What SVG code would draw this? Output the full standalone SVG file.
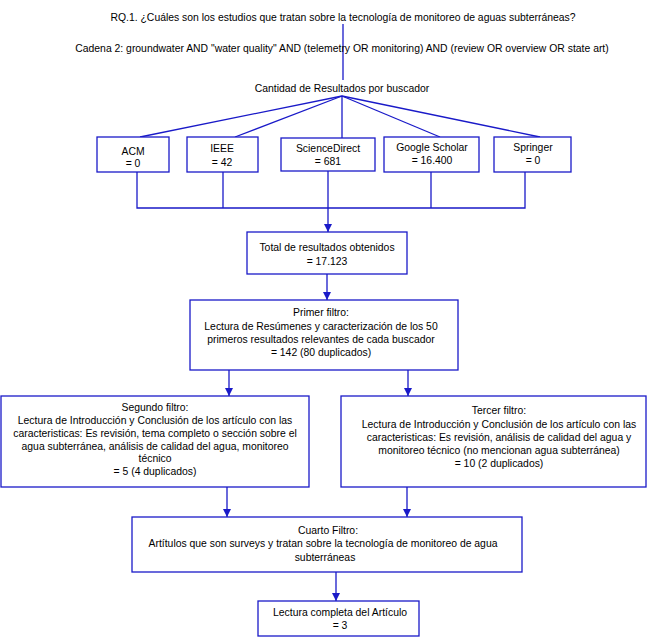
<svg xmlns="http://www.w3.org/2000/svg" width="650" height="640" viewBox="0 0 650 640">
<style>
text{font-family:"Liberation Sans",Arial,sans-serif;font-size:10.4px;fill:#000;text-anchor:middle}
.box{fill:#fff;stroke:#1a1ac8;stroke-width:1.3}
.ln{fill:none;stroke:#1a1ac8;stroke-width:1.3}
</style>
<defs>
<marker id="ah" markerUnits="userSpaceOnUse" markerWidth="10" markerHeight="10" refX="8" refY="4" orient="auto"><path d="M0,0 L8,4 L0,8 Z" fill="#1a1ac8"/></marker>
</defs>
<rect width="650" height="640" fill="#fff"/>
<g id="connectors">
<line class="ln" x1="343" y1="24" x2="343" y2="80"/>
<line class="ln" x1="342" y1="96" x2="140" y2="137"/>
<line class="ln" x1="342" y1="96" x2="235" y2="137"/>
<line class="ln" x1="342" y1="96" x2="342" y2="138"/>
<line class="ln" x1="342" y1="96" x2="440" y2="137"/>
<line class="ln" x1="342" y1="96" x2="540" y2="137"/>
<polyline class="ln" points="137,172 137,208 525,208 525,172"/>
<line class="ln" x1="223" y1="172" x2="223" y2="208"/>
<line class="ln" x1="431" y1="172" x2="431" y2="208"/>
<line class="ln" x1="328" y1="171" x2="328" y2="232" marker-end="url(#ah)"/>
<line class="ln" x1="327" y1="274" x2="327" y2="300" marker-end="url(#ah)"/>
<line class="ln" x1="229" y1="370" x2="229" y2="396" marker-end="url(#ah)"/>
<line class="ln" x1="408" y1="370" x2="408" y2="396" marker-end="url(#ah)"/>
<line class="ln" x1="227" y1="487" x2="227" y2="517" marker-end="url(#ah)"/>
<line class="ln" x1="407" y1="487" x2="407" y2="517" marker-end="url(#ah)"/>
<line class="ln" x1="336" y1="572" x2="336" y2="601" marker-end="url(#ah)"/>
</g>
<g id="rq"><text x="343" y="21">RQ.1. ¿Cuáles son los estudios que tratan sobre la tecnología de monitoreo de aguas subterráneas?</text></g>
<g id="cadena"><text x="342" y="52">Cadena 2: groundwater AND "water quality" AND (telemetry OR monitoring) AND (review OR overview OR state art)</text></g>
<g id="cantidad"><text x="342" y="92">Cantidad de Resultados por buscador</text></g>
<g id="acm"><rect class="box" x="97" y="137" width="72" height="35"/><text x="133" y="155">ACM</text><text x="133" y="167">= 0</text></g>
<g id="ieee"><rect class="box" x="187" y="137" width="71" height="35"/><text x="222" y="152">IEEE</text><text x="222" y="166">= 42</text></g>
<g id="sciencedirect"><rect class="box" x="281" y="138" width="94" height="33"/><text x="328" y="152">ScienceDirect</text><text x="328" y="165">= 681</text></g>
<g id="google"><rect class="box" x="384" y="137" width="95" height="35"/><text x="432" y="151">Google Scholar</text><text x="432" y="164">= 16.400</text></g>
<g id="springer"><rect class="box" x="494" y="137" width="77" height="35"/><text x="533" y="151">Springer</text><text x="533" y="164">= 0</text></g>
<g id="total"><rect class="box" x="247" y="232" width="160" height="42"/><text x="327" y="251">Total de resultados obtenidos</text><text x="327" y="265">= 17.123</text></g>
<g id="primer"><rect class="box" x="190" y="300" width="268" height="70"/><text x="321" y="316">Primer filtro:</text><text x="321" y="330">Lectura de Resúmenes y caracterización de los 50</text><text x="321" y="343">primeros resultados relevantes de cada buscador</text><text x="321" y="356">= 142 (80 duplicados)</text></g>
<g id="segundo"><rect class="box" x="1" y="396" width="308" height="91"/><text x="155" y="411">Segundo filtro:</text><text x="155" y="424">Lectura de Introducción y Conclusión de los artículo con las</text><text x="155" y="437">caracteristicas: Es revisión, tema completo o sección sobre el</text><text x="155" y="450">agua subterránea, análisis de calidad del agua, monitoreo</text><text x="155" y="462">técnico</text><text x="155" y="475">= 5 (4 duplicados)</text></g>
<g id="tercer"><rect class="box" x="341" y="396" width="305" height="91"/><text x="499" y="414">Tercer filtro:</text><text x="499" y="428">Lectura de Introducción y Conclusión de los artículo con las</text><text x="499" y="441">caracteristicas: Es revisión, análisis de calidad del agua y</text><text x="499" y="454">monitoreo técnico (no mencionan agua subterránea)</text><text x="499" y="467">= 10 (2 duplicados)</text></g>
<g id="cuarto"><rect class="box" x="132" y="517" width="390" height="55"/><text x="328" y="534">Cuarto Filtro:</text><text x="323" y="547">Artítulos que son surveys y tratan sobre la tecnología de monitoreo de agua</text><text x="325" y="561">subterráneas</text></g>
<g id="lectura"><rect class="box" x="258" y="601" width="161" height="35"/><text x="340" y="616">Lectura completa del Artículo</text><text x="340" y="629">= 3</text></g>
</svg>
